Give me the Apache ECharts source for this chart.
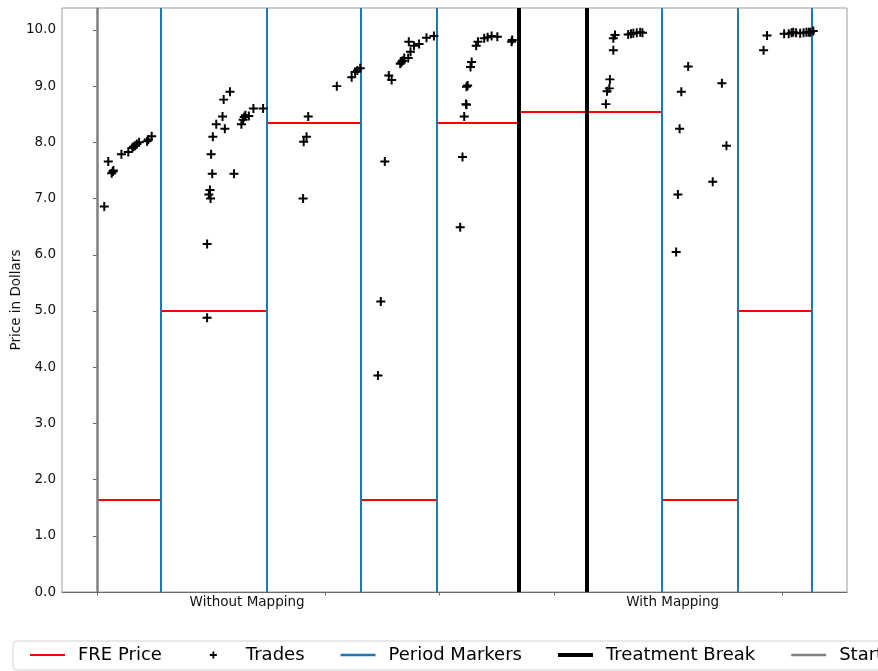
<!DOCTYPE html>
<html>
<head>
<meta charset="utf-8">
<script src="https://cdn.jsdelivr.net/npm/echarts@6/dist/echarts.min.js"></script>
<style>
  html, body { margin: 0; padding: 0; background: #fff; }
  #chart { width: 878px; height: 671px; }
</style>
</head>
<body>
<div id="chart"></div>
<script>
// Session clock in seconds; session starts at 0
const startTime = [0];
const periodMarkers = [111, 298, 462, 595, 989, 1121, 1251];
const treatmentBreaks = [738, 857];

// Fundamental (FRE) price per period: start, end, price
const freStart = [0, 111, 298, 462, 595, 738, 989, 1121];
const freEnd = [111, 298, 462, 595, 738, 989, 1121, 1251];
const freValue = [1.65, 5.0, 8.35, 1.65, 8.35, 8.54, 1.65, 5.0];

// Individual trades: time (s) and price ($)
const tradeTimes = [
  13, 20, 26, 28, 29, 43, 55, 62, 64, 67, 70, 74, 88, 90, 96,
  193, 193, 196, 198, 199, 202, 200, 203, 209, 220, 224, 222, 233, 240, 253, 256, 258, 260, 266, 274, 291,
  361, 362, 367, 370, 420, 446, 452, 456, 461,
  492, 497, 504, 511, 516, 531, 533, 535, 538, 545, 549, 546, 555, 564, 577, 590,
  636, 640, 643, 646, 647, 647, 649, 654, 656, 664, 667, 678, 684, 691, 701, 726, 727,
  891, 893, 897, 898, 904, 904, 907, 930, 935, 939, 945, 951, 955,
  1014, 1017, 1020, 1023, 1035, 1078, 1094, 1102,
  1167, 1173, 1203, 1211, 1216, 1219, 1224, 1231, 1237, 1242, 1246, 1249, 1254
];
const tradePrices = [
  6.86, 7.66, 7.45, 7.48, 7.50, 7.79, 7.83, 7.90, 7.92, 7.94, 7.97, 8.00, 8.02, 8.05, 8.11,
  4.88, 6.19, 7.07, 7.15, 7.00, 7.44, 7.79, 8.10, 8.32, 8.46, 8.24, 8.76, 8.90, 7.44, 8.32, 8.40, 8.45, 8.48, 8.47, 8.60, 8.60,
  7.00, 8.01, 8.10, 8.46, 9.00, 9.16, 9.25, 9.28, 9.32,
  3.85, 5.17, 7.66, 9.19, 9.11, 9.40, 9.42, 9.45, 9.50, 9.50, 9.61, 9.79, 9.72, 9.75, 9.86, 9.89,
  6.49, 7.74, 8.46, 8.68, 8.67, 8.99, 9.01, 9.34, 9.43, 9.72, 9.79, 9.85, 9.87, 9.89, 9.88, 9.79, 9.82,
  8.68, 8.91, 8.96, 9.12, 9.64, 9.85, 9.91, 9.92, 9.93, 9.94, 9.95, 9.96, 9.95,
  6.05, 7.07, 8.24, 8.90, 9.35, 7.30, 9.05, 7.94,
  9.64, 9.90, 9.93, 9.93, 9.95, 9.96, 9.95, 9.94, 9.95, 9.96, 9.96, 9.96, 9.98
];

// Axis ticks and group labels
const yTicks = [0, 1, 2, 3, 4, 5, 6, 7, 8, 9, 10];
const xMinorTicks = [0, 400, 600, 800, 1200];
const groupLabelPos = [263, 1008];
const groupLabels = ['Without Mapping', 'With Mapping'];

const FONT = 'DejaVu Sans';
const AXIS_FONT_SIZE = 13.5;
const PLUS = 'path://M3.9,0H6.1V3.9H10V6.1H6.1V10H3.9V6.1H0V3.9H3.9Z';

const chart = echarts.init(document.getElementById('chart'), null, { renderer: 'canvas' });

const lineMarks = (xs) => xs.map(x => ({ xAxis: x }));
const markLineBase = {
  silent: true,
  symbol: ['none', 'none'],
  label: { show: false },
  emphasis: { disabled: true },
  animation: false
};

const option = {
  backgroundColor: '#ffffff',
  animation: false,
  grid: {
    left: 62, right: 31, top: 8, bottom: 79,
    containLabel: false,
    outerBoundsMode: 'none',
    show: true, borderColor: '#9a9a9a', borderWidth: 1, backgroundColor: 'transparent'
  },
  xAxis: {
    type: 'value',
    min: -61, max: 1313,
    splitLine: { show: false },
    axisLine: { show: true, onZero: false, lineStyle: { color: '#6a6a6a', width: 1 } },
    axisTick: { show: true, customValues: xMinorTicks, length: 3.5, inside: false, lineStyle: { color: '#6a6a6a' } },
    axisLabel: {
      customValues: groupLabelPos,
      formatter: (v) => groupLabels[groupLabelPos.indexOf(v)] || '',
      fontFamily: FONT, fontSize: AXIS_FONT_SIZE, color: '#111', margin: 3
    }
  },
  yAxis: {
    type: 'value',
    min: 0, max: 10.39,
    name: 'Price in Dollars',
    nameLocation: 'middle',
    nameGap: 39,
    nameMoveOverlap: false,
    nameTextStyle: { fontFamily: FONT, fontSize: AXIS_FONT_SIZE, color: '#111' },
    splitLine: { show: false },
    axisLine: { show: true, lineStyle: { color: '#6a6a6a', width: 1 } },
    axisTick: { show: true, customValues: yTicks, length: 4, lineStyle: { color: '#6a6a6a' } },
    axisLabel: {
      customValues: yTicks,
      formatter: (v) => v.toFixed(1),
      fontFamily: FONT, fontSize: AXIS_FONT_SIZE, color: '#111', margin: 6
    }
  },
  legend: {
    left: 13, top: 641, width: 1000,
    orient: 'horizontal',
    selectedMode: false,
    itemWidth: 43, itemHeight: 14, itemGap: 36,
    padding: [5, 10, 6, 17],
    borderColor: '#d0d0d0', borderWidth: 1, borderRadius: 4,
    backgroundColor: '#ffffff',
    textStyle: { fontFamily: FONT, fontSize: 18, color: '#000' },
    data: [
      { name: 'FRE Price', icon: 'path://M0,0M43,14M0,6H35V8H0Z', itemStyle: { color: '#ff0000', borderWidth: 0 } },
      { name: 'Trades', icon: 'path://M0,0M43,14M14.6,3.5H16.4V6.1H19V7.9H16.4V10.5H14.6V7.9H12V6.1H14.6Z', itemStyle: { color: '#000000', borderWidth: 0 } },
      { name: 'Period Markers', icon: 'path://M0,0M43,14M0,5.75H35V8.25H0Z', itemStyle: { color: '#1f77b4', borderWidth: 0 } },
      { name: 'Treatment Break', icon: 'path://M0,0M43,14M0,5H35V9H0Z', itemStyle: { color: '#000000', borderWidth: 0 } },
      { name: 'Start', icon: 'path://M0,0M43,14M0,5.75H35V8.25H0Z', itemStyle: { color: '#808080', borderWidth: 0 } }
    ]
  },
  series: [
    {
      name: 'FRE Price',
      type: 'line',
      data: [],
      color: '#ff0000',
      markLine: Object.assign({}, markLineBase, {
        lineStyle: { color: '#ff0000', width: 2, type: 'solid' },
        data: freStart.map((s, i) => [
          { coord: [s, freValue[i]] },
          { coord: [freEnd[i], freValue[i]] }
        ])
      })
    },
    {
      name: 'Period Markers',
      type: 'line',
      data: [],
      color: '#1f77b4',
      markLine: Object.assign({}, markLineBase, {
        lineStyle: { color: '#1f77b4', width: 2, type: 'solid' },
        data: lineMarks(periodMarkers)
      })
    },
    {
      name: 'Treatment Break',
      type: 'line',
      data: [],
      color: '#000000',
      markLine: Object.assign({}, markLineBase, {
        lineStyle: { color: '#000000', width: 4, type: 'solid' },
        data: lineMarks(treatmentBreaks)
      })
    },
    {
      name: 'Start',
      type: 'line',
      data: [],
      color: '#808080',
      markLine: Object.assign({}, markLineBase, {
        lineStyle: { color: '#808080', width: 2.5, type: 'solid' },
        data: lineMarks(startTime)
      })
    },
    {
      name: 'Trades',
      type: 'scatter',
      symbol: PLUS,
      symbolSize: 9,
      itemStyle: { color: '#000000', opacity: 1 },
      z: 5,
      data: tradeTimes.map((t, i) => [t, tradePrices[i]])
    }
  ]
};

chart.setOption(option);
</script>
</body>
</html>
